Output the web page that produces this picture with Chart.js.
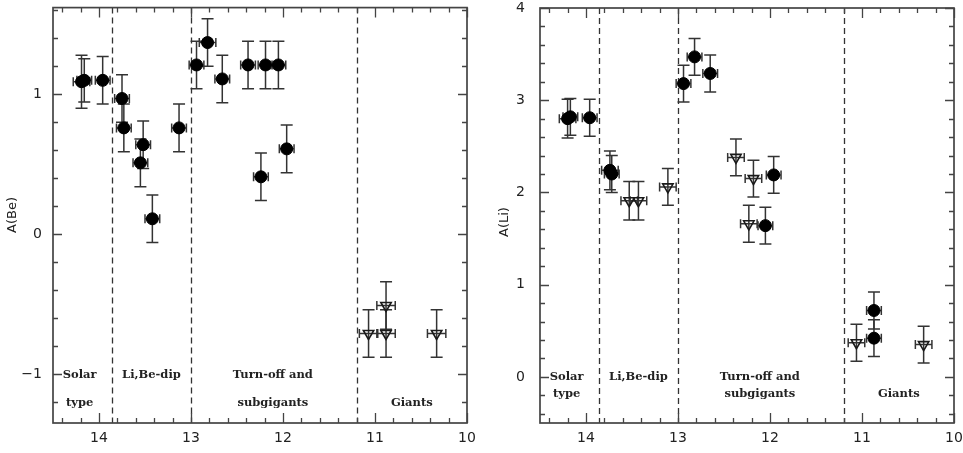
<!DOCTYPE html>
<html>
<head>
<meta charset="utf-8">
<script src="https://cdn.jsdelivr.net/npm/chart.js@4.4.1/dist/chart.umd.min.js"></script>
<style>
  html, body { margin: 0; padding: 0; background: #fff; }
  #wrap { position: relative; width: 963px; height: 453px; overflow: hidden; }
  #beWrap { position: absolute; left: 0; top: 0; width: 480px; height: 453px; }
  #liWrap { position: absolute; left: 480px; top: 0; width: 483px; height: 453px; }
</style>
</head>
<body>
<div id="wrap">
  <div id="beWrap"><canvas id="beChart" width="480" height="453"></canvas></div>
  <div id="liWrap"><canvas id="liChart" width="483" height="453"></canvas></div>
</div>
<script>
/* =========================
   Data
========================= */

const xTickLabels = [14, 13, 12, 11, 10];
const beTickLabels = [-1, 0, 1];
const liTickLabels = [0, 1, 2, 3, 4];

// region boundaries (M_V) and labels
const regionBounds = [13.86, 13.0, 11.2];
const regionNames = ["Solar", "type", "Li,Be-dip", "Turn-off and", "subgigants", "Giants"];
const regionNameX = [14.21, 14.21, 13.43, 12.11, 12.11, 10.6];

// Be: detections (filled circles)
const beDetX = [14.19, 14.16, 13.96, 13.75, 13.73, 13.52, 13.55, 13.42, 13.13, 12.94, 12.82, 12.66, 12.38, 12.19, 12.05, 12.24, 11.96];
const beDetY = [1.09, 1.10, 1.10, 0.97, 0.76, 0.64, 0.51, 0.11, 0.76, 1.21, 1.37, 1.11, 1.21, 1.21, 1.21, 0.41, 0.61];
const beDetErrY = [0.19, 0.155, 0.17, 0.17, 0.17, 0.17, 0.17, 0.17, 0.17, 0.17, 0.17, 0.17, 0.17, 0.17, 0.17, 0.17, 0.17];
const beDetErrX = [0.09, 0.08, 0.08, 0.08, 0.08, 0.08, 0.08, 0.08, 0.08, 0.08, 0.09, 0.08, 0.08, 0.08, 0.08, 0.08, 0.08];

// Be: upper limits (open triangles)
const beLimX = [11.07, 10.88, 10.88, 10.33];
const beLimY = [-0.71, -0.51, -0.71, -0.71];
const beLimErrY = [0.17, 0.17, 0.17, 0.17];
const beLimErrX = [0.1, 0.1, 0.1, 0.1];

// Li: detections (filled circles)
const liDetX = [14.20, 14.17, 13.96, 13.74, 13.72, 12.94, 12.82, 12.65, 11.96, 12.05, 10.87, 10.87];
const liDetY = [2.80, 2.82, 2.81, 2.24, 2.20, 3.18, 3.47, 3.29, 2.19, 1.64, 0.72, 0.42];
const liDetErrY = [0.21, 0.2, 0.2, 0.21, 0.2, 0.2, 0.2, 0.2, 0.2, 0.2, 0.2, 0.2];
const liDetErrX = [0.09, 0.08, 0.08, 0.09, 0.08, 0.08, 0.08, 0.08, 0.08, 0.08, 0.08, 0.08];

// Li: upper limits (open triangles)
const liLimX = [13.53, 13.43, 13.11, 12.37, 12.18, 12.23, 11.06, 10.33];
const liLimY = [1.91, 1.91, 2.06, 2.38, 2.15, 1.66, 0.37, 0.35];
const liLimErrY = [0.21, 0.21, 0.2, 0.2, 0.2, 0.2, 0.2, 0.2];
const liLimErrX = [0.09, 0.09, 0.09, 0.09, 0.09, 0.09, 0.09, 0.09];

/* =========================
   Helpers
========================= */

const INK = "#222";
const FRAME = "#444";

function points(xs, ys) {
  return xs.map((x, i) => ({ x: x, y: ys[i] }));
}

function circleSet(xs, ys, ex, ey) {
  return {
    data: points(xs, ys),
    errX: ex, errY: ey,
    pointStyle: "circle",
    pointRadius: 6,
    backgroundColor: "#000",
    borderColor: "#000",
    borderWidth: 1
  };
}

function triangleSet(xs, ys, ex, ey) {
  return {
    data: points(xs, ys),
    errX: ex, errY: ey,
    pointStyle: "triangle",
    rotation: 180,
    pointRadius: 6,
    backgroundColor: "rgba(255,255,255,0)",
    borderColor: "#1a1a1a",
    borderWidth: 1.6
  };
}

/* =========================
   Plugin: error bars, frame, inner ticks, region labels
========================= */

const paperPlugin = {
  id: "paper",

  beforeDatasetsDraw(chart, args, opts) {
    const { ctx, chartArea: a, scales: { x, y } } = chart;
    ctx.save();

    // region boundaries
    ctx.strokeStyle = "#333";
    ctx.lineWidth = 1.3;
    ctx.setLineDash([6, 4]);
    regionBounds.forEach(v => {
      const px = Math.round(x.getPixelForValue(v)) + 0.5;
      ctx.beginPath();
      ctx.moveTo(px, a.top);
      ctx.lineTo(px, a.bottom);
      ctx.stroke();
    });
    ctx.setLineDash([]);

    // error bars
    ctx.strokeStyle = "#333";
    ctx.lineWidth = 1.5;
    chart.data.datasets.forEach(ds => {
      ds.data.forEach((p, i) => {
        const px = x.getPixelForValue(p.x);
        const py = y.getPixelForValue(p.y);
        const x0 = x.getPixelForValue(p.x - ds.errX[i]);
        const x1 = x.getPixelForValue(p.x + ds.errX[i]);
        const y0 = y.getPixelForValue(p.y - ds.errY[i]);
        const y1 = y.getPixelForValue(p.y + ds.errY[i]);
        ctx.beginPath();
        ctx.moveTo(px, y0); ctx.lineTo(px, y1);
        ctx.moveTo(px - 6, y0); ctx.lineTo(px + 6, y0);
        ctx.moveTo(px - 6, y1); ctx.lineTo(px + 6, y1);
        ctx.moveTo(x0, py); ctx.lineTo(x1, py);
        ctx.moveTo(x0, py - 4.5); ctx.lineTo(x0, py + 4.5);
        ctx.moveTo(x1, py - 4.5); ctx.lineTo(x1, py + 4.5);
        ctx.stroke();
      });
    });
    ctx.restore();
  },

  afterDraw(chart, args, opts) {
    const { ctx, chartArea: a, scales: { x, y } } = chart;
    ctx.save();

    // frame
    ctx.strokeStyle = FRAME;
    ctx.lineWidth = 1.7;
    ctx.strokeRect(a.left, a.top, a.right - a.left, a.bottom - a.top);

    // inner ticks on all four sides
    ctx.lineWidth = 1.3;
    ctx.beginPath();
    for (let v = 10; v <= x.max + 1e-6; v += 0.2) {
      const major = Math.abs(v - Math.round(v)) < 1e-6;
      const len = major ? 10 : 5;
      const px = Math.round(x.getPixelForValue(v)) + 0.5;
      ctx.moveTo(px, a.bottom); ctx.lineTo(px, a.bottom - len);
      ctx.moveTo(px, a.top); ctx.lineTo(px, a.top + len);
    }
    const yStart = Math.ceil(y.min / 0.2) * 0.2;
    for (let v = yStart; v <= y.max + 1e-6; v += 0.2) {
      const major = Math.abs(v - Math.round(v)) < 1e-6;
      const len = major ? 9 : 5;
      const py = Math.round(y.getPixelForValue(v)) + 0.5;
      ctx.moveTo(a.left, py); ctx.lineTo(a.left + len, py);
      ctx.moveTo(a.right, py); ctx.lineTo(a.right - len, py);
    }
    ctx.stroke();

    // region labels
    ctx.fillStyle = INK;
    ctx.font = "bold 11.5px 'DejaVu Serif'";
    ctx.textAlign = "center";
    ctx.textBaseline = "middle";
    regionNames.forEach((t, i) => {
      ctx.fillText(t, x.getPixelForValue(regionNameX[i]), y.getPixelForValue(opts.nameY[i]));
    });

    // y title
    ctx.font = "13px 'DejaVu Sans'";
    ctx.translate(opts.titleX, opts.titleY);
    ctx.rotate(-Math.PI / 2);
    ctx.fillText(opts.title, 0, 0);
    ctx.restore();
  }
};

/* =========================
   Chart Builder
========================= */

function buildChart(canvasId, datasets, yMin, yMax, yTicks, yAxisWidth, pad, plot) {
  return new Chart(document.getElementById(canvasId), {
    type: "scatter",
    data: { datasets: datasets },
    options: {
      responsive: false,
      animation: false,
      layout: { padding: pad },
      plugins: {
        legend: { display: false },
        tooltip: { enabled: false },
        paper: plot
      },
      scales: {
        x: {
          type: "linear",
          reverse: true,
          min: 10,
          max: 14.5,
          grid: { display: false, drawTicks: false },
          border: { display: false },
          ticks: {
            padding: 7,
            color: INK,
            font: { family: "DejaVu Sans", size: 14 }
          },
          afterBuildTicks: s => { s.ticks = xTickLabels.map(v => ({ value: v })); },
          afterFit: s => { s.height = 30; s.paddingLeft = 0; s.paddingRight = 0; }
        },
        y: {
          type: "linear",
          min: yMin,
          max: yMax,
          grid: { display: false, drawTicks: false },
          border: { display: false },
          ticks: {
            padding: plot.tickPad,
            color: INK,
            font: { family: "DejaVu Sans", size: 14 },
            callback: v => (v < 0 ? "\u2212" + Math.abs(v) : String(v))
          },
          afterBuildTicks: s => { s.ticks = yTicks.map(v => ({ value: v })); },
          afterFit: s => { s.width = yAxisWidth; s.paddingTop = 0; s.paddingBottom = 0; }
        }
      }
    },
    plugins: [paperPlugin]
  });
}

buildChart(
  "beChart",
  [
    circleSet(beDetX, beDetY, beDetErrX, beDetErrY),
    triangleSet(beLimX, beLimY, beLimErrX, beLimErrY)
  ],
  -1.35, 1.62, beTickLabels, 53,
  { top: 7, right: 13, left: 0, bottom: 0 },
  { title: "A(Be)", titleX: 13, titleY: 215, tickPad: 11,
    nameY: [-1.01, -1.21, -1.01, -1.01, -1.21, -1.21] }
);

buildChart(
  "liChart",
  [
    circleSet(liDetX, liDetY, liDetErrX, liDetErrY),
    triangleSet(liLimX, liLimY, liLimErrX, liLimErrY)
  ],
  -0.5, 4, liTickLabels, 60,
  { top: 8, right: 9, left: 0, bottom: 0 },
  { title: "A(Li)", titleX: 25, titleY: 222, tickPad: 15,
    nameY: [0, -0.19, 0, 0, -0.19, -0.19] }
);
</script>
</body>
</html>
